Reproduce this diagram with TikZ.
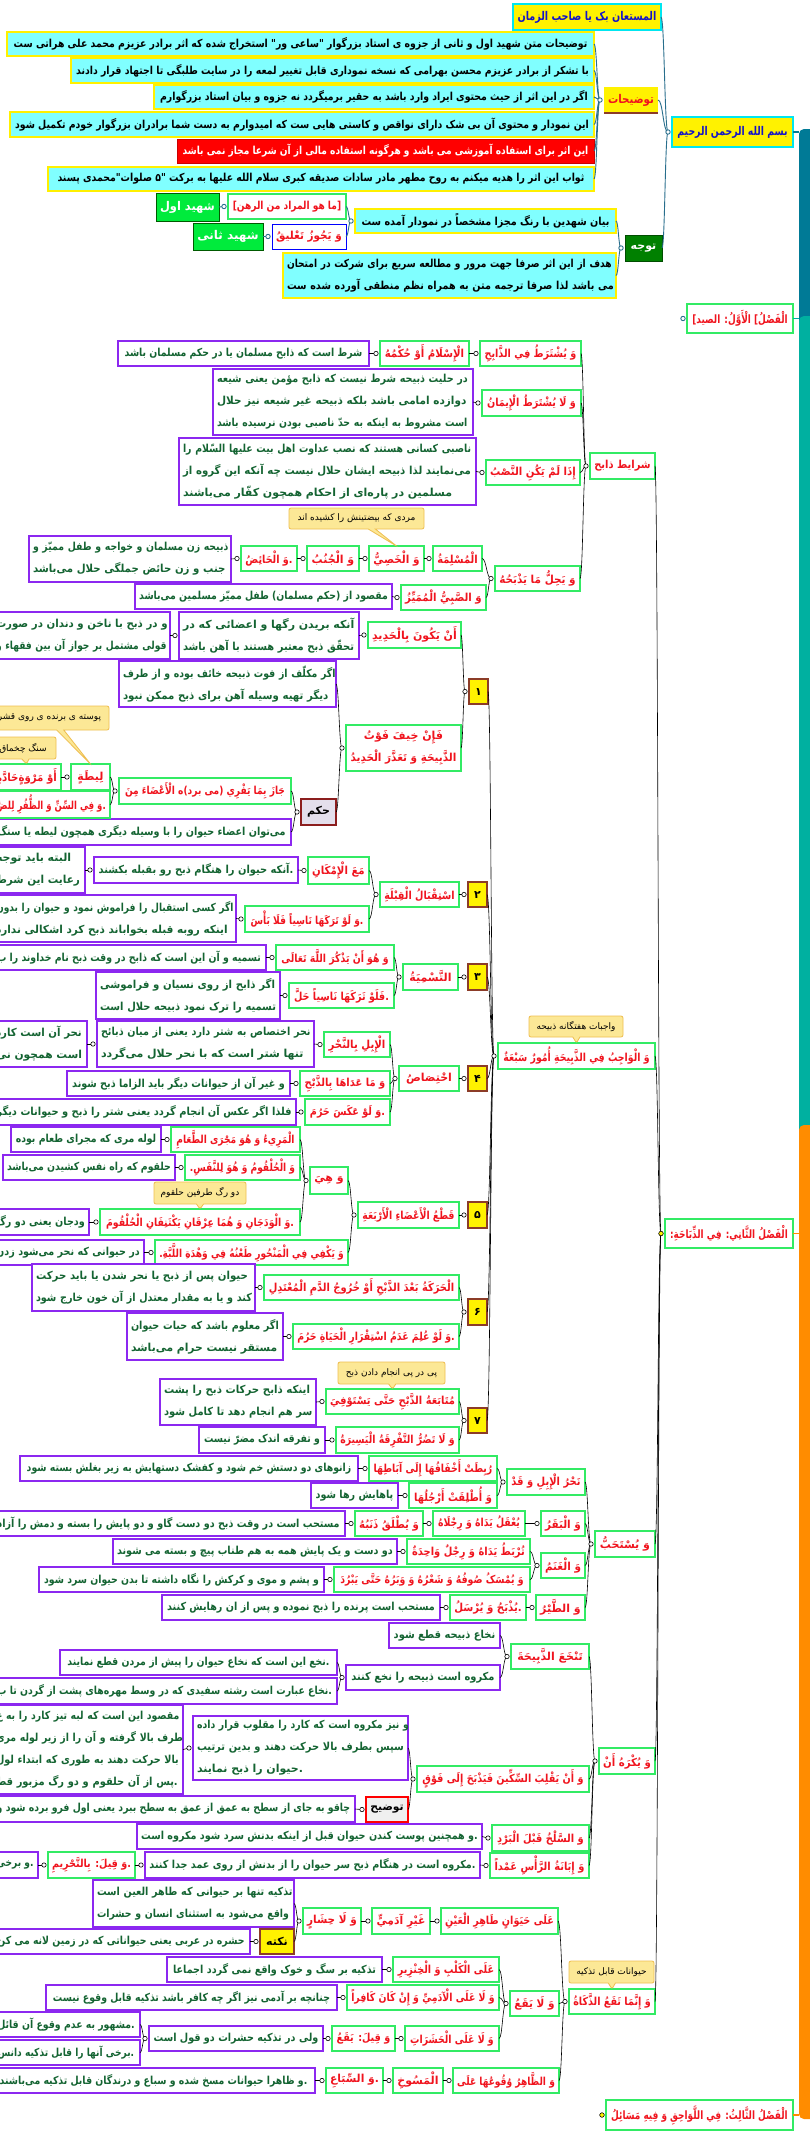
\documentclass[tikz,border=0pt]{standalone}
\usepackage{fontspec}
\usetikzlibrary{calc,shapes.callouts}
\newfontfamily\ar[Script=Arabic]{DejaVu Sans}
\TeXXeTstate=1
\definecolor{gB}{RGB}{50,235,100}
\definecolor{rT}{RGB}{240,20,30}
\definecolor{pB}{RGB}{140,40,240}
\definecolor{gT}{RGB}{20,100,50}
\definecolor{cyF}{RGB}{128,255,255}
\definecolor{yB}{RGB}{255,240,0}
\definecolor{brn}{RGB}{140,60,40}
\definecolor{coF}{RGB}{252,232,150}
\definecolor{coB}{RGB}{238,190,80}
\definecolor{clT}{RGB}{40,110,140}
\definecolor{barT}{RGB}{0,122,150}
\definecolor{barG}{RGB}{0,176,160}
\definecolor{barO}{RGB}{255,140,0}
\definecolor{dG}{RGB}{0,128,0}
\definecolor{bG}{RGB}{0,235,60}
\definecolor{bT}{RGB}{20,20,200}
\definecolor{cyB}{RGB}{0,230,240}
\definecolor{hkF}{RGB}{228,223,236}
\definecolor{hkB}{RGB}{140,30,30}
\newsavebox\fitbx
\newcommand\fitline[2]{\leavevmode\sbox\fitbx{#2}\ifdim\wd\fitbx>#1\relax\pgfmathsetmacro\fs{max(0.3,floor(((#1)/(\the\wd\fitbx))*40)/40)}\hbox{\addfontfeatures{FakeStretch=\fs}#2}\else\usebox\fitbx\fi}
\newcommand\bx[7]{%
\pgfmathsetmacro\bxw{(#5)-(#3)}%
\pgfmathsetmacro\bxh{(#6)-(#4)}%
\pgfmathsetmacro\bxt{(#5)-(#3)-8}%
\node[#2,minimum width=\bxw pt,minimum height=\bxh pt] (#1) at ({((#3)+(#5))/2},{((#4)+(#6))/2}) {#7};}
\newcommand\fl[1]{\fitline{\bxt pt}{#1}}
\newcommand\conn[3][cl]{%
\coordinate (dd) at ($(#2.west)+(-4,0)$);
\foreach \c in {#3}{\coordinate (mm) at ($(dd)!0.5!(\c.east)$);
\draw[#1] (dd) .. controls (mm |- dd) and (mm |- \c.east) .. (\c.east);}
\filldraw[#1,fill=white] (dd) circle (2.2);}
\tikzset{
 base/.style={inner sep=0pt, outer sep=0pt, font=\ar\bfseries\fontsize{11}{22}\selectfont, align=center},
 gb/.style={base, draw=gB, line width=1.3pt, fill=white, text=rT},
 pb/.style={base, draw=pB, line width=1.3pt, fill=white, text=gT},
 cb/.style={base, draw=yB, line width=1.5pt, fill=cyF, text=black},
 rb/.style={base, draw=red!80!black, line width=1pt, fill=red, text=white},
 yb/.style={base, draw=cyB, line width=1.8pt, fill=yellow, text=bT, font=\ar\bfseries\fontsize{12}{22}\selectfont},
 ybr/.style={base, fill=yellow, text=rT, font=\ar\bfseries\fontsize{12}{22}\selectfont},
 gfb/.style={base, draw=dG!70!black, line width=1pt, fill=bG, text=white, font=\ar\bfseries\fontsize{12}{22}\selectfont},
 wbb/.style={base, draw=blue, line width=1pt, fill=white, text=rT},
 dgb/.style={base, draw=dG!60!black, line width=1pt, fill=dG, text=white},
 nb/.style={base, draw=brn, line width=1.2pt, fill=yellow, text=black},
 hk/.style={base, draw=hkB, line width=1.2pt, fill=hkF, text=black},
 tw/.style={base, draw=red, line width=1.2pt, fill=black!6, text=black},
 fb/.style={gb, font=\ar\bfseries\fontsize{11.5}{22}\selectfont},
 ml/.style={text width=\bxt pt, align=left},
 co/.style={base, rectangle callout, fill=coF, draw=coB, line width=0.8pt, rounded corners=2pt, text=black, font=\ar\fontsize{9}{10}\selectfont},
 cl/.style={black, line width=0.6pt},
 clt/.style={clT, line width=0.9pt},
}
\begin{document}
\begin{tikzpicture}[x=1pt,y=-1pt]
\useasboundingbox (0,0) rectangle (810,2134);
\fill[white] (0,0) rectangle (810,2134);
% ---------- right bars (thick connectors from the off-page centre) ----------
\coordinate (barTop) at (799,129);
\coordinate (barMid) at (799,316);
\coordinate (barSw) at (799,1125);
\fill[barT,rounded corners=5pt] (barTop) rectangle (815,1135);
\fill[barG,rounded corners=5pt] (barMid) rectangle (815,1135);
\fill[barO,rounded corners=5pt] (barSw) rectangle (815,2119);
% ---------- top section ----------
\bx{mostaan}{yb}{513}{4}{661}{30}{\fl{\beginR المستعان بک یا صاحب الزمان\endR}}
\bx{e1}{cb}{7}{32}{594}{56}{\fl{\beginR توضیحات متن شهید اول و ثانی از جزوه ی استاد بزرگوار "ساعی ور" استخراج شده که اثر برادر عزیزم محمد علی هراتی ست\endR}}
\bx{e2}{cb}{71}{58}{594}{83}{\fl{\beginR با تشکر از برادر عزیزم محسن بهرامی که نسخه نموداری قابل تغییر لمعه را در سایت طلبگی تا اجتهاد قرار دادند\endR}}
\bx{e3}{cb}{154}{85}{594}{109}{\fl{\beginR اگر در این اثر از حیث محتوی ایراد وارد باشد به حقیر برمیگردد نه جزوه و بیان استاد بزرگوارم\endR}}
\bx{e4}{cb}{10}{112}{594}{137}{\fl{\beginR این نمودار و محتوی آن بی شک دارای نواقص و کاستی هایی ست که امیدوارم به دست شما برادران بزرگوار خودم تکمیل شود\endR}}
\bx{e5}{rb}{177}{139}{594}{163}{\fl{\beginR این اثر برای استفاده آموزشی می باشد و هرگونه استفاده مالی از آن شرعا مجاز نمی باشد\endR}}
\bx{e6}{cb}{48}{167}{594}{191}{\fl{\beginR ثواب این اثر را هدیه میکنم به روح مطهر مادر سادات صدیقه کبری سلام الله علیها به برکت "۵ صلوات"محمدی پسند\endR}}
\bx{toz}{ybr}{604}{87}{658}{113}{\fl{\beginR توضیحات\endR}}
\draw[brn,line width=2pt] (toz.south west) -- (toz.south east);
\bx{bism}{yb}{672}{117}{793}{147}{\fl{\beginR بسم الله الرحمن الرحیم\endR}}
\bx{rahn}{gb}{228}{194}{346}{219}{\fl{\beginR [ما هو المراد من الرهن]\endR}}
\bx{sh1}{gfb}{156}{193}{219}{221}{\fl{\beginR شهید اول\endR}}
\bx{tal}{wbb}{272}{224}{346}{249}{\fl{\beginR وَ یَجُوزُ تَعْلیقُ\endR}}
\bx{sh2}{gfb}{193}{223}{263}{250}{\fl{\beginR شهید ثانی\endR}}
\bx{bayan}{cb}{355}{209}{616}{233}{\fl{\beginR بیان شهدین با رنگ  مجزا مشخصاً در نمودار آمده ست\endR}}
\bx{hadaf}{cb,ml}{283}{253}{616}{298}{\fl{\beginR هدف از این اثر صرفا جهت مرور و مطالعه سریع برای شرکت در امتحان\endR}\\\fl{\beginR می باشد لذا صرفا ترجمه متن به همراه نظم منطقی آورده شده ست\endR}}
\bx{tavajoh}{dgb}{625}{235}{662}{261}{\fl{\beginR توجه\endR}}
% ---------- chapters ----------
\bx{f1}{fb}{687}{304}{793}{333}{\fl{\beginR الْفَصْلُ] الْأَوَّلُ: الصید]\endR}}
\bx{f2}{fb}{665}{1219}{793}{1248}{\fl{\beginR الْفَصْلُ الثَّانِي: فِي الذِّبَاحَةِ:\endR}}
\bx{f3}{fb}{606}{2100}{793}{2130}{\fl{\beginR الْفَصْلُ الثَّالِثُ: فِي اللَّوَاحِقِ وَ فِیهِ مَسَائِلُ\endR}}
\draw[barT,line width=1.2pt] (bism.east) -- (bism.east -| barTop);
\draw[barG,line width=1.2pt] (f1.east) -- (f1.east -| barMid);
\draw[barO,line width=1.2pt] (f2.east) -- (f2.east -| barSw);
\draw[barO,line width=1.2pt] (f3.east) -- (f3.east -| barSw);
% ---------- sharayet ----------
\bx{shz}{gb}{590}{453}{655}{479}{\fl{\beginR شرایط ذابح\endR}}
\bx{yosh}{gb}{480}{341}{581}{366}{\fl{\beginR وَ یُشْتَرَطُ فِي الذَّابِحِ\endR}}
\bx{islam}{gb}{380}{341}{469}{366}{\fl{\beginR الْإِسْلَامُ أَوْ حُکْمُهُ\endR}}
\bx{islamP}{pb}{118}{341}{369}{366}{\fl{\beginR شرط است که ذابح مسلمان یا در حکم مسلمان باشد\endR}}
\bx{layosh}{gb}{482}{390}{581}{416}{\fl{\beginR وَ لَا یُشْتَرَطُ الْإِیمَانُ\endR}}
\bx{layoshP}{pb,ml}{213}{369}{473}{435}{\fl{\beginR در حلیت ذبیحه شرط نیست که ذابح مؤمن یعنی شیعه\endR}\\\fl{\beginR دوازده امامی باشد بلکه ذبیحه غیر شیعه نیز حلال\endR}\\\fl{\beginR است مشروط به اینکه به حدّ ناصبی بودن نرسیده باشد\endR}}
\bx{idha}{gb}{486}{460}{580}{485}{\fl{\beginR إِذَا لَمْ یَکُنِ النَّصْبُ\endR}}
\bx{idhaP}{pb,ml}{179}{438}{476}{505}{\fl{\beginR ناصبی کسانی هستند که نصب عداوت اهل بیت علیها السّلام را\endR}\\\fl{\beginR می‌نمایند لذا ذبیحه ایشان حلال نیست چه آنکه این گروه از\endR}\\\fl{\beginR مسلمین در پاره‌ای از احکام همچون کفّار می‌باشند\endR}}
\bx{yahil}{gb}{495}{566}{580}{591}{\fl{\beginR وَ یَحِلُّ مَا یَذْبَحُهُ\endR}}
\bx{muslima}{gb}{433}{546}{482}{571}{\fl{\beginR الْمُسْلِمَةُ\endR}}
\bx{khasi}{gb}{369}{546}{424}{571}{\fl{\beginR وَ الْخَصِيُّ\endR}}
\bx{jonob}{gb}{307}{546}{359}{571}{\fl{\beginR وَ الْجُنُبُ\endR}}
\bx{haez}{gb}{241}{546}{297}{571}{\fl{\beginR .وَ الْحَائِضُ\endR}}
\bx{haezP}{pb,ml}{29}{536}{231}{582}{\fl{\beginR ذبیحه زن مسلمان و خواجه و طفل ممیّز و\endR}\\\fl{\beginR جنب و زن حائض جملگی حلال می‌باشد\endR}}
\bx{sabi}{gb}{401}{585}{486}{610}{\fl{\beginR وَ الصَّبِيُّ الْمُمَیِّزُ\endR}}
\bx{sabiP}{pb}{135}{584}{392}{609}{\fl{\beginR مقصود از (حکم مسلمان) طفل ممیّز مسلمین می‌باشد\endR}}
% ---------- vajeb ----------
\bx{vajeb}{gb}{498}{1043}{655}{1069}{\fl{\beginR وَ الْوَاجِبُ فِي الذَّبِیحَةِ أُمُورٌ سَبْعَةٌ\endR}}
\bx{n1}{nb}{469}{679}{488}{704}{\fl{\beginR ۱\endR}}
\bx{n2}{nb}{468}{882}{487}{907}{\fl{\beginR ۲\endR}}
\bx{n3}{nb}{468}{964}{487}{990}{\fl{\beginR ۳\endR}}
\bx{n4}{nb}{468}{1066}{487}{1091}{\fl{\beginR ۴\endR}}
\bx{n5}{nb}{468}{1202}{487}{1228}{\fl{\beginR ۵\endR}}
\bx{n6}{nb}{468}{1299}{487}{1325}{\fl{\beginR ۶\endR}}
\bx{n7}{nb}{468}{1408}{487}{1433}{\fl{\beginR ۷\endR}}
% 1
\bx{hadid}{gb}{368}{622}{461}{648}{\fl{\beginR أَنْ یَکُونَ بِالْحَدِیدِ\endR}}
\bx{hadidP}{pb,ml}{179}{612}{359}{659}{\fl{\beginR آنکه بریدن رگها و اعضائی که در\endR}\\\fl{\beginR تحقّق ذبح معتبر هستند با آهن باشد\endR}}
\bx{hadidP2}{pb,ml}{-8}{612}{170}{659}{\fl{\beginR و در ذبح با ناخن و دندان در صورت\endR}\\\fl{\beginR قولی مشتمل بر جواز آن بین فقهاء و\endR}}
\bx{khif}{gb}{346}{725}{461}{771}{\fl{\beginR فَإِنْ خِیفَ فَوْتُ\endR}\\\fl{\beginR الذَّبِیحَةِ وَ تَعَذَّرَ الْحَدِیدُ\endR}}
\bx{khifP}{pb,ml}{119}{661}{336}{707}{\fl{\beginR اگر مکلّف از فوت ذبیحه خائف بوده و از طرف\endR}\\\fl{\beginR دیگر تهیه وسیله آهن برای ذبح ممکن نبود\endR}}
\bx{hokm}{hk}{301}{799}{336}{825}{\fl{\beginR حکم\endR}}
\bx{jaza}{gb}{119}{778}{291}{804}{\fl{\beginR جَازَ بِمَا یَفْرِي (می برد)ه الْأَعْضَاءَ مِنَ\endR}}
\bx{hokmP}{pb}{-8}{819}{291}{845}{\fl{\beginR می‌توان اعضاء حیوان را با وسیله دیگری همچون لیطه یا سنگ\endR}}
\bx{lita}{gb}{71}{764}{110}{790}{\fl{\beginR لِیطَةٍ\endR}}
\bx{marwa}{gb}{-8}{764}{61}{790}{\fl{\beginR أَوْ مَرْوَةٍحَادَّةٍ\endR}}
\bx{sinn}{gb}{-8}{791}{110}{818}{\fl{\beginR .وَ فِي السِّنِّ وَ الظُّفُرِ لِلضَّ\endR}}
% 2
\bx{istiqbal}{gb}{380}{882}{459}{907}{\fl{\beginR اسْتِقْبَالُ الْقِبْلَةِ\endR}}
\bx{imkan}{gb}{308}{857}{369}{884}{\fl{\beginR مَعَ الْإِمْکَانِ\endR}}
\bx{imkanP}{pb}{94}{857}{298}{883}{\fl{\beginR .آنکه حیوان را هنگام ذبح رو بقبله بکشند\endR}}
\bx{imkanP2}{pb,ml}{-8}{847}{85}{893}{\fl{\beginR البته باید توجه\endR}\\\fl{\beginR رعایت این شرط\endR}}
\bx{tarak}{gb}{245}{906}{369}{932}{\fl{\beginR .وَ لَوْ تَرَکَهَا نَاسِیاً فَلَا بَأْسَ\endR}}
\bx{tarakP}{pb,ml}{-8}{895}{236}{942}{\fl{\beginR اگر کسی استقبال را فراموش نمود و حیوان را بدون\endR}\\\fl{\beginR اینکه روبه قبله بخواباند ذبح کرد اشکالی ندارد\endR}}
% 3
\bx{tasmiya}{gb}{403}{964}{458}{990}{\fl{\beginR التَّسْمِیَةُ\endR}}
\bx{yadhkur}{gb}{276}{945}{394}{970}{\fl{\beginR وَ هُوَ أَنْ یَذْکُرَ اللَّهَ تَعَالَى\endR}}
\bx{yadhkurP}{pb}{-8}{945}{266}{970}{\fl{\beginR تسمیه و آن این است که ذابح در وقت ذبح نام خداوند را ب\endR}}
\bx{falaw}{gb}{289}{983}{394}{1008}{\fl{\beginR .فَلَوْ تَرَکَهَا نَاسِیاً حَلَّ\endR}}
\bx{falawP}{pb,ml}{96}{972}{280}{1019}{\fl{\beginR اگر ذابح از روی نسیان و فراموشی\endR}\\\fl{\beginR تسمیه را ترک نمود ذبیحه حلال است\endR}}
% 4
\bx{ikhtisas}{gb}{399}{1066}{459}{1091}{\fl{\beginR اخْتِصَاصُ\endR}}
\bx{ibil}{gb}{324}{1032}{390}{1057}{\fl{\beginR الْإِبِلِ بِالنَّحْرِ\endR}}
\bx{ibilP}{pb,ml}{97}{1021}{314}{1067}{\fl{\beginR نحر اختصاص به شتر دارد یعنی از میان ذبائح\endR}\\\fl{\beginR تنها شتر است که با نحر حلال می‌گردد\endR}}
\bx{ibilP2}{pb,ml}{-8}{1021}{87}{1067}{\fl{\beginR نحر آن است کارد\endR}\\\fl{\beginR است همچون نی\endR}}
\bx{adaha}{gb}{300}{1071}{390}{1096}{\fl{\beginR وَ مَا عَدَاهَا بِالذَّبْحِ\endR}}
\bx{adahaP}{pb}{67}{1071}{290}{1096}{\fl{\beginR و غیر آن از حیوانات دیگر باید الزاما ذبح شوند\endR}}
\bx{akas}{gb}{305}{1099}{390}{1125}{\fl{\beginR .وَ لَوْ عَکَسَ حَرُمَ\endR}}
\bx{akasP}{pb}{-8}{1099}{296}{1125}{\fl{\beginR فلذا اگر عکس آن انجام گردد یعنی شتر را ذبح و حیوانات دیگر\endR}}
% 5
\bx{qat}{gb}{358}{1202}{459}{1228}{\fl{\beginR قَطْعُ الْأَعْضَاءِ الْأَرْبَعَةِ\endR}}
\bx{hiya}{gb}{310}{1167}{348}{1194}{\fl{\beginR وَ هِيَ\endR}}
\bx{yakfi}{gb}{155}{1240}{348}{1265}{\fl{\beginR وَ یَکْفِي فِي الْمَنْحُورِ طَعْنُهُ فِي وَهْدَةِ اللَّبَّةِ.\endR}}
\bx{yakfiP}{pb}{-8}{1240}{144}{1265}{\fl{\beginR در حیوانی که نحر می‌شود زدن\endR}}
\bx{mari}{gb}{171}{1127}{300}{1152}{\fl{\beginR الْمَرِيءُ وَ هُوَ مَجْرَى الطَّعَامِ\endR}}
\bx{mariP}{pb}{11}{1127}{161}{1152}{\fl{\beginR لوله مری که مجرای طعام بوده\endR}}
\bx{holq}{gb}{185}{1155}{300}{1180}{\fl{\beginR وَ الْحُلْقُومُ وَ هُوَ لِلنَّفَسِ.\endR}}
\bx{holqP}{pb}{3}{1155}{175}{1180}{\fl{\beginR حلقوم که راه نفس کشیدن می‌باشد\endR}}
\bx{wadaj}{gb}{100}{1209}{300}{1235}{\fl{\beginR .وَ الْوَدَجَانِ وَ هُمَا عِرْقَانِ یَکْتَنِفَانِ الْحُلْقُومَ\endR}}
\bx{wadajP}{pb}{-8}{1209}{89}{1235}{\fl{\beginR ودجان یعنی دو رگ\endR}}
% 6
\bx{haraka}{gb}{264}{1275}{459}{1300}{\fl{\beginR الْحَرَکَةُ بَعْدَ الذَّبْحِ أَوْ خُرُوجُ الدَّمِ الْمُعْتَدِلِ\endR}}
\bx{harakaP}{pb,ml}{32}{1264}{255}{1311}{\fl{\beginR حیوان پس از ذبح یا نحر شدن یا باید حرکت\endR}\\\fl{\beginR کند و یا به مقدار معتدل از آن خون خارج شود\endR}}
\bx{ulim}{gb}{293}{1324}{459}{1349}{\fl{\beginR .وَ لَوْ عُلِمَ عَدَمُ اسْتِقْرَارِ الْحَیَاةِ حَرُمَ\endR}}
\bx{ulimP}{pb,ml}{127}{1313}{283}{1360}{\fl{\beginR اگر معلوم باشد که حیات حیوان\endR}\\\fl{\beginR مستقر نیست حرام می‌باشد\endR}}
% 7
\bx{mutaba}{gb}{326}{1389}{459}{1414}{\fl{\beginR مُتَابَعَةُ الذَّبْحِ حَتَّى یَسْتَوْفِيَ\endR}}
\bx{mutabaP}{pb,ml}{160}{1379}{316}{1425}{\fl{\beginR اینکه ذابح حرکات ذبح را پشت\endR}\\\fl{\beginR سر هم انجام دهد تا کامل شود\endR}}
\bx{tafriqa}{gb}{336}{1427}{459}{1453}{\fl{\beginR وَ لَا تَضُرُّ التَّفْرِقَةُ الْیَسِیرَةُ\endR}}
\bx{tafriqaP}{pb}{199}{1427}{325}{1453}{\fl{\beginR و تفرقه اندک مضرّ نیست\endR}}
% ---------- mostahab ----------
\bx{mostahab}{gb}{595}{1531}{655}{1557}{\fl{\beginR وَ یُسْتَحَبُّ\endR}}
\bx{nahr}{gb}{507}{1469}{585}{1495}{\fl{\beginR نَحْرُ الْإِبِلِ وَ قَدْ\endR}}
\bx{rubitat}{gb}{369}{1456}{497}{1481}{\fl{\beginR رُبِطَتْ أَخْفَافُهَا إِلَى آبَاطِهَا\endR}}
\bx{rubitatP}{pb}{20}{1456}{358}{1481}{\fl{\beginR زانوهای دو دستش خم شود و کفشک دستهایش به زیر بغلش بسته شود\endR}}
\bx{utliqat}{gb}{409}{1483}{497}{1508}{\fl{\beginR وَ أُطْلِقَتْ أَرْجُلُهَا\endR}}
\bx{utliqatP}{pb}{311}{1483}{398}{1508}{\fl{\beginR پاهایش رها شود\endR}}
\bx{baqar}{gb}{541}{1511}{585}{1536}{\fl{\beginR وَ الْبَقَرُ\endR}}
\bx{yuqal}{gb}{433}{1511}{525}{1536}{\fl{\beginR یُعْقَلُ یَدَاهُ وَ رِجْلَاهُ\endR}}
\bx{yutlaq}{gb}{355}{1511}{423}{1536}{\fl{\beginR وَ یُطْلَقُ ذَنَبُهُ\endR}}
\bx{yutlaqP}{pb}{-8}{1511}{345}{1536}{\fl{\beginR مستحب است در وقت ذبح دو دست گاو و دو پایش را بسته و دمش را آزاد\endR}}
\bx{ghanam}{gb}{541}{1553}{585}{1578}{\fl{\beginR وَ الْغَنَمُ\endR}}
\bx{turbat}{gb}{407}{1539}{530}{1564}{\fl{\beginR تُرْبَطُ یَدَاهُ وَ رِجْلٌ وَاحِدَةٌ\endR}}
\bx{turbatP}{pb}{113}{1539}{397}{1564}{\fl{\beginR دو دست و یک پایش همه به هم طناب پیچ و بسته می شوند\endR}}
\bx{yumsak}{gb}{334}{1567}{530}{1592}{\fl{\beginR وَ یُمْسَکُ صُوفُهُ وَ شَعْرُهُ وَ وَبَرُهُ حَتَّى یَبْرُدَ\endR}}
\bx{yumsakP}{pb}{39}{1567}{324}{1592}{\fl{\beginR و پشم و موی و کرکش را نگاه داشته تا بدن حیوان سرد شود\endR}}
\bx{tayr}{gb}{536}{1595}{585}{1620}{\fl{\beginR وَ الطَّیْرُ\endR}}
\bx{yudhbah}{gb}{450}{1595}{526}{1620}{\fl{\beginR .یُذْبَحُ وَ یُرْسَلُ\endR}}
\bx{yudhbahP}{pb}{162}{1595}{440}{1620}{\fl{\beginR مستحب است پرنده را ذبح نموده و پس از ان رهایش کنند\endR}}
% ---------- yokrah ----------
\bx{yokrah}{gb}{599}{1748}{655}{1774}{\fl{\beginR وَ یُکْرَهُ أَنْ\endR}}
\bx{nakh}{gb}{511}{1644}{589}{1669}{\fl{\beginR تَنْخَعَ الذَّبِیحَةَ\endR}}
\bx{nakhP1}{pb}{389}{1623}{500}{1648}{\fl{\beginR نخاع ذبیحه قطع شود\endR}}
\bx{nakhP2}{pb}{346}{1665}{500}{1690}{\fl{\beginR مکروه است ذبیحه را نخع کنند\endR}}
\bx{nakhP3}{pb}{60}{1650}{337}{1675}{\fl{\beginR .نخع این است که نخاع حیوان را پیش از مردن قطع نمایند\endR}}
\bx{nakhP4}{pb}{-8}{1678}{337}{1704}{\fl{\beginR .نخاع عبارت است رشته سفیدی که در وسط مهره‌های پشت از گردن تا ب\endR}}
\bx{yaqlib}{gb}{417}{1766}{589}{1792}{\fl{\beginR وَ أَنْ یَقْلِبَ السِّکِّینَ فَیَذْبَحَ إِلَى فَوْقٍ\endR}}
\bx{yaqlibP}{pb,ml}{193}{1716}{408}{1780}{\fl{\beginR و نیز مکروه است که کارد را مقلوب قرار داده\endR}\\\fl{\beginR سپس بطرف بالا حرکت دهند و بدین ترتیب\endR}\\\fl{\beginR .حیوان را ذبح نمایند\endR}}
\bx{yaqlibP2}{pb,ml}{-8}{1705}{183}{1794}{\fl{\beginR مقصود این است که لبه تیز کارد را به ع\endR}\\\fl{\beginR طرف بالا گرفته و آن را از زیر لوله مری\endR}\\\fl{\beginR بالا حرکت دهند به طوری که ابتداء لول\endR}\\\fl{\beginR .پس از آن حلقوم و دو رگ مزبور قط\endR}}
\bx{tawdih}{tw}{366}{1797}{408}{1822}{\fl{\beginR توضیح\endR}}
\bx{tawdihP}{pb}{-8}{1796}{355}{1822}{\fl{\beginR چاقو به جای از سطح به عمق از عمق به سطح ببرد یعنی اول فرو برده شود و\endR}}
\bx{salkh}{gb}{492}{1825}{589}{1851}{\fl{\beginR وَ السَّلْخُ قَبْلَ الْبَرْدِ\endR}}
\bx{salkhP}{pb}{137}{1824}{482}{1849}{\fl{\beginR .و همچنین پوست کندن حیوان قبل از اینکه بدنش سرد شود مکروه است\endR}}
\bx{ibana}{gb}{490}{1853}{589}{1878}{\fl{\beginR وَ إِبَانَةُ الرَّأْسِ عَمْداً\endR}}
\bx{ibanaP}{pb}{145}{1852}{480}{1878}{\fl{\beginR .مکروه است در هنگام ذبح سر حیوان را از بدنش از روی عمد جدا کنند\endR}}
\bx{qila}{gb}{48}{1852}{135}{1878}{\fl{\beginR .وَ قِیلَ: بِالتَّحْرِیمِ\endR}}
\bx{qilaP}{pb}{-8}{1852}{38}{1878}{\fl{\beginR .و برخی\endR}}
% ---------- innama ----------
\bx{innama}{gb}{569}{1989}{655}{2014}{\fl{\beginR وَ إِنَّمَا تَقَعُ الذَّکَاةُ\endR}}
\bx{ala}{gb}{441}{1908}{558}{1934}{\fl{\beginR عَلَى حَیَوَانٍ طَاهِرِ الْعَیْنِ\endR}}
\bx{ghayr}{gb}{372}{1908}{430}{1934}{\fl{\beginR غَیْرِ آدَمِيٍّ\endR}}
\bx{hishar}{gb}{303}{1908}{361}{1934}{\fl{\beginR وَ لَا حِشَارٍ\endR}}
\bx{hisharP}{pb,ml}{93}{1880}{294}{1927}{\fl{\beginR تذکیه تنها بر حیوانی که طاهر العین است\endR}\\\fl{\beginR واقع می‌شود به استثنای انسان و حشرات\endR}}
\bx{nokte}{nb}{260}{1929}{294}{1954}{\fl{\beginR نکته\endR}}
\bx{nokteP}{pb}{-8}{1929}{250}{1954}{\fl{\beginR حشره در عربی یعنی حیواناتی که در زمین لانه می کن\endR}}
\bx{layaqa}{gb}{510}{1991}{559}{2016}{\fl{\beginR وَ لَا یَقَعُ\endR}}
\bx{kalb}{gb}{393}{1957}{499}{1982}{\fl{\beginR عَلَى الْکَلْبِ وَ الْخِنْزِیرِ\endR}}
\bx{kalbP}{pb}{167}{1957}{382}{1982}{\fl{\beginR تذکیه بر سگ و خوک واقع نمی گردد اجماعا\endR}}
\bx{adami}{gb}{347}{1985}{499}{2010}{\fl{\beginR وَ لَا عَلَى الْآدَمِيِّ وَ إِنْ کَانَ کَافِراً\endR}}
\bx{adamiP}{pb}{46}{1985}{337}{2010}{\fl{\beginR چنانچه بر آدمی نیز اگر چه کافر باشد تذکیه قابل وقوع نیست\endR}}
\bx{hashar}{gb}{405}{2026}{499}{2051}{\fl{\beginR وَ لَا عَلَى الْحَشَرَاتِ\endR}}
\bx{qilaY}{gb}{332}{2026}{395}{2051}{\fl{\beginR وَ قِیلَ: یَقَعُ\endR}}
\bx{hasharP}{pb}{149}{2026}{323}{2051}{\fl{\beginR ولی در تذکیه حشرات دو قول است\endR}}
\bx{hasharP1}{pb}{-8}{2012}{140}{2037}{\fl{\beginR .مشهور به عدم وقوع آن قائل\endR}}
\bx{hasharP2}{pb}{-8}{2040}{140}{2065}{\fl{\beginR .برخی آنها را قابل تذکیه دانس\endR}}
\bx{zahir}{gb}{453}{2068}{559}{2093}{\fl{\beginR وَ الظَّاهِرُ وُقُوعُهَا عَلَى\endR}}
\bx{masukh}{gb}{393}{2068}{443}{2093}{\fl{\beginR الْمَسُوخِ\endR}}
\bx{siba}{gb}{326}{2068}{383}{2093}{\fl{\beginR .وَ السِّبَاعِ\endR}}
\bx{sibaP}{pb}{-8}{2068}{315}{2093}{\fl{\beginR .و ظاهرا حیوانات مسخ شده و سباع و درندگان قابل تذکیه می‌باشند\endR}}
% ---------- connectors ----------
\conn[clt]{bism}{mostaan,toz,tavajoh}
\conn[clt]{toz}{e1,e2,e3,e4,e5,e6}
\conn[clt]{tavajoh}{bayan,hadaf}
\conn[clt]{bayan}{rahn,tal}
\conn[clt]{rahn}{sh1}
\conn[clt]{tal}{sh2}
\conn[clt]{f1}{}
\conn{f2}{shz,vajeb,mostahab,yokrah,innama}
\filldraw[black,fill=yellow] ($(f2.west)+(-4,0)$) circle (2.2);
\conn{f3}{}
\filldraw[black,fill=yellow] ($(f3.west)+(-4,0)$) circle (2.2);
\conn{shz}{yosh,layosh,idha,yahil}
\conn{yosh}{islam}
\conn{islam}{islamP}
\conn{layosh}{layoshP}
\conn{idha}{idhaP}
\conn{yahil}{muslima,sabi}
\conn{muslima}{khasi}
\conn{khasi}{jonob}
\conn{jonob}{haez}
\conn{haez}{haezP}
\conn{sabi}{sabiP}
\conn{vajeb}{n1,n2,n3,n4,n5,n6,n7}
\conn{n1}{hadid,khif}
\conn{hadid}{hadidP}
\conn{hadidP}{hadidP2}
\conn{khif}{khifP,hokm}
\conn{hokm}{jaza,hokmP}
\conn{jaza}{lita,sinn}
\conn{lita}{marwa}
\conn{n2}{istiqbal}
\conn{istiqbal}{imkan,tarak}
\conn{imkan}{imkanP}
\conn{imkanP}{imkanP2}
\conn{tarak}{tarakP}
\conn{n3}{tasmiya}
\conn{tasmiya}{yadhkur,falaw}
\conn{yadhkur}{yadhkurP}
\conn{falaw}{falawP}
\conn{n4}{ikhtisas}
\conn{ikhtisas}{ibil,adaha,akas}
\conn{ibil}{ibilP}
\conn{ibilP}{ibilP2}
\conn{adaha}{adahaP}
\conn{akas}{akasP}
\conn{n5}{qat}
\conn{qat}{hiya,yakfi}
\conn{hiya}{mari,holq,wadaj}
\conn{mari}{mariP}
\conn{holq}{holqP}
\conn{wadaj}{wadajP}
\conn{yakfi}{yakfiP}
\conn{n6}{haraka,ulim}
\conn{haraka}{harakaP}
\conn{ulim}{ulimP}
\conn{n7}{mutaba,tafriqa}
\conn{mutaba}{mutabaP}
\conn{tafriqa}{tafriqaP}
\conn{mostahab}{nahr,baqar,ghanam,tayr}
\conn{nahr}{rubitat,utliqat}
\conn{rubitat}{rubitatP}
\conn{utliqat}{utliqatP}
\conn{baqar}{yuqal}
\conn{yuqal}{yutlaq}
\conn{yutlaq}{yutlaqP}
\conn{ghanam}{turbat,yumsak}
\conn{turbat}{turbatP}
\conn{yumsak}{yumsakP}
\conn{tayr}{yudhbah}
\conn{yudhbah}{yudhbahP}
\conn{yokrah}{nakh,yaqlib,salkh,ibana}
\conn{nakh}{nakhP1,nakhP2}
\conn{nakhP2}{nakhP3,nakhP4}
\conn{yaqlib}{yaqlibP,tawdih}
\conn{yaqlibP}{yaqlibP2}
\conn{tawdih}{tawdihP}
\conn{salkh}{salkhP}
\conn{ibana}{ibanaP}
\conn{ibanaP}{qila}
\conn{qila}{qilaP}
\conn{innama}{ala,layaqa,zahir}
\conn{ala}{ghayr}
\conn{ghayr}{hishar}
\conn{hishar}{hisharP,nokte}
\conn{nokte}{nokteP}
\conn{layaqa}{kalb,adami,hashar}
\conn{kalb}{kalbP}
\conn{adami}{adamiP}
\conn{hashar}{qilaY}
\conn{qilaY}{hasharP}
\conn{hasharP}{hasharP1,hasharP2}
\conn{zahir}{masukh}
\conn{masukh}{siba}
\conn{siba}{sibaP}
% ---------- callouts ----------
\bx{khasiC}{co,callout absolute pointer={(khasi.north)}}{289}{508}{424}{529}{\fl{\beginR مردی که بیضتینش را کشیده اند\endR}}
\bx{vajebC}{co,callout absolute pointer={(vajeb.north)}}{529}{1016}{623}{1037}{\fl{\beginR واجبات هفتگانه ذبیحه\endR}}
\bx{litaC}{co,callout absolute pointer={(lita.north)}}{-10}{706}{109}{730}{\fl{\beginR پوسته ی برنده ی روی قشر\endR}}
\bx{marwaC}{co,callout absolute pointer={(marwa.north)}}{-10}{737}{56}{759}{\fl{\beginR سنگ چخماق\endR}}
\bx{wadajC}{co,callout absolute pointer={(wadaj.north)}}{154}{1182}{246}{1204}{\fl{\beginR دو رگ طرفین حلقوم\endR}}
\bx{mutabaC}{co,callout absolute pointer={(mutaba.north)}}{338}{1362}{445}{1384}{\fl{\beginR پی در پی انجام دادن ذبح\endR}}
\bx{innamaC}{co,callout absolute pointer={(innama.north)}}{569}{1961}{654}{1983}{\fl{\beginR حیوانات قابل تذکیه\endR}}
\end{tikzpicture}
\end{document}
